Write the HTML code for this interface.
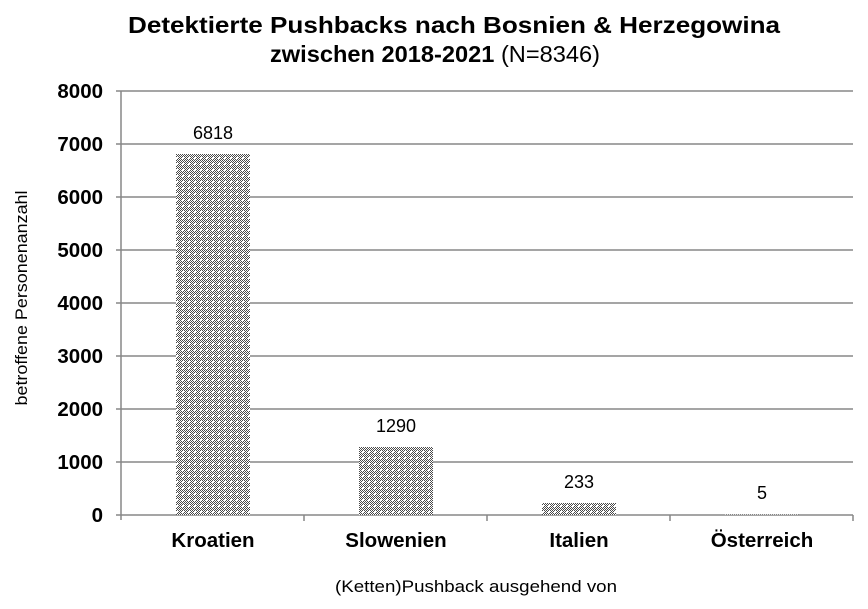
<!DOCTYPE html>
<html><head><meta charset="utf-8">
<style>
html,body{margin:0;padding:0;background:#fff;}
svg{display:block;}
text{font-family:"Liberation Sans",Arial,sans-serif;fill:#000;}
</style></head>
<body>
<svg width="868" height="609" viewBox="0 0 868 609" xmlns="http://www.w3.org/2000/svg">
<defs>
<pattern id="p" x="0" y="0" width="6" height="6" patternUnits="userSpaceOnUse">
<rect width="6" height="6" fill="#fff"/>
<rect x="0" y="0" width="1" height="1" fill="#4a4a4a"/>
<rect x="2" y="0" width="1" height="1" fill="#4a4a4a"/>
<rect x="4" y="0" width="1" height="1" fill="#4a4a4a"/>
<rect x="1" y="1" width="1" height="1" fill="#4a4a4a"/>
<rect x="5" y="1" width="1" height="1" fill="#4a4a4a"/>
<rect x="0" y="2" width="1" height="1" fill="#4a4a4a"/>
<rect x="4" y="2" width="1" height="1" fill="#4a4a4a"/>
<rect x="1" y="3" width="1" height="1" fill="#4a4a4a"/>
<rect x="3" y="3" width="1" height="1" fill="#4a4a4a"/>
<rect x="5" y="3" width="1" height="1" fill="#4a4a4a"/>
<rect x="0" y="4" width="1" height="1" fill="#4a4a4a"/>
<rect x="2" y="4" width="1" height="1" fill="#4a4a4a"/>
<rect x="4" y="4" width="1" height="1" fill="#4a4a4a"/>
<rect x="1" y="5" width="1" height="1" fill="#4a4a4a"/>
<rect x="3" y="5" width="1" height="1" fill="#4a4a4a"/>
<rect x="5" y="5" width="1" height="1" fill="#4a4a4a"/>
</pattern>
</defs>

<!-- Title -->
<text x="454" y="33" text-anchor="middle" font-size="23" font-weight="bold" textLength="652" lengthAdjust="spacingAndGlyphs">Detektierte Pushbacks nach Bosnien &amp; Herzegowina</text>
<text x="270" y="62" font-size="23.5" textLength="330" lengthAdjust="spacingAndGlyphs"><tspan font-weight="bold">zwischen 2018-2021</tspan> <tspan>(N=8346)</tspan></text>

<!-- gridlines -->
<g stroke="#878787" stroke-width="1.5">
<line x1="116" y1="91" x2="853" y2="91"/>
<line x1="116" y1="144" x2="853" y2="144"/>
<line x1="116" y1="197" x2="853" y2="197"/>
<line x1="116" y1="250" x2="853" y2="250"/>
<line x1="116" y1="303" x2="853" y2="303"/>
<line x1="116" y1="356" x2="853" y2="356"/>
<line x1="116" y1="409" x2="853" y2="409"/>
<line x1="116" y1="462" x2="853" y2="462"/>
<line x1="121" y1="91" x2="121" y2="520"/>
<line x1="116" y1="515" x2="853" y2="515"/>
<line x1="304" y1="515" x2="304" y2="521"/>
<line x1="487" y1="515" x2="487" y2="521"/>
<line x1="670" y1="515" x2="670" y2="521"/>
<line x1="853" y1="515" x2="853" y2="521"/>
</g>

<!-- y labels -->
<g font-size="20.5" font-weight="bold" text-anchor="end">
<text x="103" y="98">8000</text>
<text x="103" y="151">7000</text>
<text x="103" y="204">6000</text>
<text x="103" y="257">5000</text>
<text x="103" y="310">4000</text>
<text x="103" y="363">3000</text>
<text x="103" y="416">2000</text>
<text x="103" y="469">1000</text>
<text x="103" y="522">0</text>
</g>

<!-- bars -->
<rect x="176" y="154" width="74" height="361" fill="url(#p)"/>
<rect x="359" y="447" width="74" height="68" fill="url(#p)"/>
<rect x="542" y="503" width="74" height="12" fill="url(#p)"/>
<rect x="725" y="514.5" width="74" height="0.5" fill="url(#p)"/>

<!-- data labels -->
<g font-size="18" text-anchor="middle">
<text x="213" y="139">6818</text>
<text x="396" y="432">1290</text>
<text x="579" y="488">233</text>
<text x="762" y="499">5</text>
</g>

<!-- x labels -->
<g font-size="20.5" font-weight="bold" text-anchor="middle">
<text x="213" y="547">Kroatien</text>
<text x="396" y="547">Slowenien</text>
<text x="579" y="547">Italien</text>
<text x="762" y="547">Österreich</text>
</g>

<!-- axis titles -->
<text x="476" y="592" font-size="17" text-anchor="middle" textLength="282" lengthAdjust="spacingAndGlyphs">(Ketten)Pushback ausgehend von</text>
<text transform="translate(27,298) rotate(-90)" font-size="17" text-anchor="middle" textLength="215" lengthAdjust="spacingAndGlyphs">betroffene Personenanzahl</text>
</svg>
</body></html>
